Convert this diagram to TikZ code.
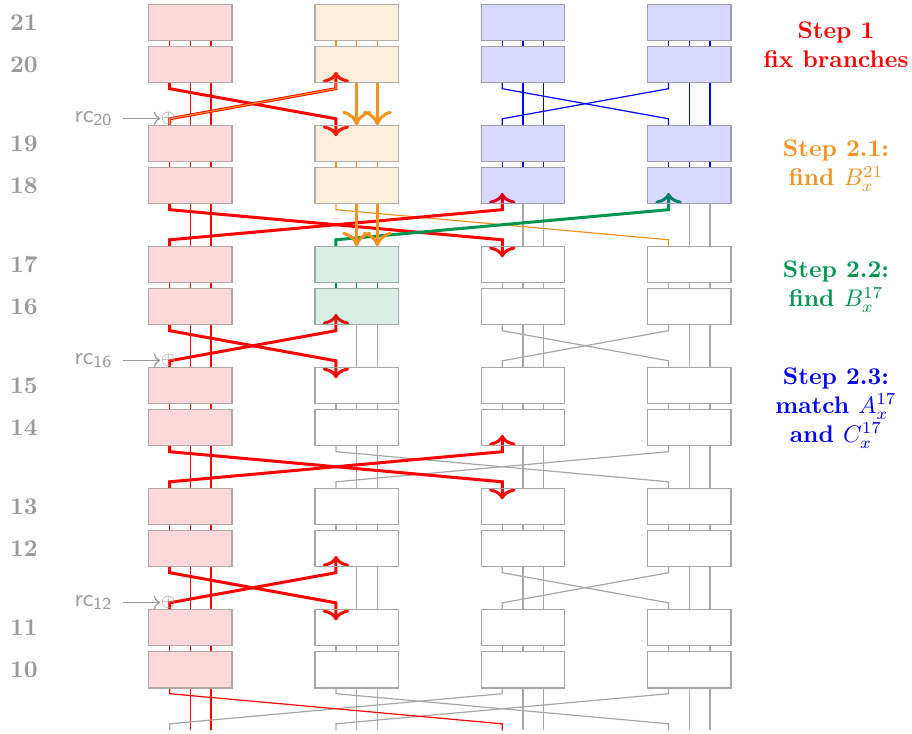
\documentclass[tikz,border=0pt]{standalone}
\usetikzlibrary{arrows.meta,calc}
\definecolor{myorange}{RGB}{245,145,30}
\definecolor{mygreen}{RGB}{0,150,80}
\pgfdeclarelayer{bg}
\pgfsetlayers{bg,main}
\tikzset{
  box/.style={rectangle, inner sep=0pt, outer sep=0pt, minimum width=34.71pt, minimum height=15.12pt, line width=0.5pt},
  boxred/.style={box, draw=red!12!black!35, fill=red, fill opacity=0.15},
  boxor/.style={box, draw=myorange!15!black!35, fill=myorange, fill opacity=0.15},
  boxbl/.style={box, draw=blue!18!black!38, fill=blue, fill opacity=0.15},
  boxgr/.style={box, draw=mygreen!18!black!38, fill=mygreen, fill opacity=0.15},
  boxwh/.style={box, draw=black!35},
  boxghost/.style={box},
  wire/.style={line width=0.5pt},
  wred/.style={wire, red}, wor/.style={wire, myorange}, wbl/.style={wire, blue},
  wgr/.style={wire, mygreen}, wgy/.style={wire, black!35},
  tred/.style={red, line width=1.25pt, -{To[length=4.5pt,width=11pt]}},
  tgreen/.style={mygreen, line width=1.25pt, -{To[length=4.5pt,width=11pt]}},
  oarrow/.style={myorange, line width=1.25pt, -{To[length=6pt,width=12pt]}},
  rowlab/.style={text=black!40, font=\bfseries},
  rclab/.style={text=black!40, anchor=base east, inner sep=0pt},
  plusnode/.style={text=black!40, inner sep=0pt, font=\scriptsize},
  rcarrow/.style={black!40, line width=0.5pt, ->, shorten <=4pt},
  steptext/.style={font=\bfseries, align=center},
}
% wires
\newcommand\zzmid[3]{\draw[#1] (#2.south) -- (#3.north);
  \draw[#1] ($(#2.south)+(20.7,0)$) -- ($(#3.north)+(20.7,0)$);}
\newcommand\zzshort[3]{\draw[#1] ($(#2.south)+(-20.7,0)$) -- ($(#3.north)+(-20.7,0)$);\zzmid{#1}{#2}{#3}}
\newcommand\zzleft[3]{\draw[#1] ($(#2.south)+(-20.7,0)$) -- ++(0,5.8) -- ($(#3.north)+(-20.7,-6.5)$) -- ($(#3.north)+(-20.7,0)$);}
\newcommand\zzdown[3]{\draw[#1] ($(#2.south)+(-20.7,0)$) -- ++(0,5.8) -- ($(#3.north)+(-20.7,-6.5)$) -- ($(#3.north)+(-20.7,11)$);}
\newcommand\zzup[3]{\draw[#1] ($(#2.north)+(-20.7,0)$) -- ++(0,-6.5) -- ($(#3.south)+(-20.7,5.8)$) -- ($(#3.south)+(-20.7,-11)$);}
\begin{document}
\begin{tikzpicture}[x=0.41667pt,y=-0.41667pt]
\useasboundingbox (0,0) rectangle (912,734);
% boxes
\foreach \r/\y/\stA/\stB/\stC in {21/22.45/boxred/boxor/boxbl, 20/64.75/boxred/boxor/boxbl,
  19/143.45/boxred/boxor/boxbl, 18/185.75/boxred/boxor/boxbl,
  17/264.45/boxred/boxgr/boxwh, 16/306.75/boxred/boxgr/boxwh,
  15/385.45/boxred/boxwh/boxwh, 14/427.75/boxred/boxwh/boxwh,
  13/506.45/boxred/boxwh/boxwh, 12/548.75/boxred/boxwh/boxwh,
  11/627.45/boxred/boxwh/boxwh, 10/669.75/boxred/boxwh/boxwh,
  9/748.45/boxghost/boxghost/boxghost}{
  \node[\stA] (b\r-1) at (190.35,\y) {};
  \node[\stB] (b\r-2) at (356.65,\y) {};
  \node[\stC] (b\r-3) at (522.95,\y) {};
  \node[\stC] (b\r-4) at (689.25,\y) {};
}
% row labels
\foreach \r/\y in {21/22.45, 20/64.75, 19/143.45, 18/185.75, 17/264.45, 16/306.75,
  15/385.45, 14/427.75, 13/506.45, 12/548.75, 11/627.45, 10/669.75}{
  \node[rowlab] (l\r) at (24,\y) {\r};
}
% rc inputs
\foreach \k/\y in {20/118.5, 16/360.5, 12/602.5}{
  \node[plusnode] (p\k) at (168.3,\y) {$\oplus$};
  \node[rclab] (rc\k) at (113,\y+3.8) {\textsf{rc}$_{\mathsf{\k}}$};
  \draw[rcarrow] (rc\k.east |- p\k) -- (p\k.west);
}
% step texts
\node[steptext, text=red] (s1) at (836,45) {Step 1\\fix branches};
\node[steptext, text=myorange] (s21) at (836,166) {Step 2.1:\\find $B_x^{21}$};
\node[steptext, text=mygreen] (s22) at (836,287) {Step 2.2:\\find $B_x^{17}$};
\node[steptext, text=blue] (s23) at (836,408) {Step 2.3:\\match $A_x^{17}$\\and $C_x^{17}$};

\begin{pgfonlayer}{bg}
% short gaps inside pairs
\zzshort{wred}{b21-1}{b20-1}\zzshort{wor}{b21-2}{b20-2}\zzshort{wbl}{b21-3}{b20-3}\zzshort{wbl}{b21-4}{b20-4}
\zzshort{wred}{b19-1}{b18-1}\zzshort{wor}{b19-2}{b18-2}\zzshort{wbl}{b19-3}{b18-3}\zzshort{wbl}{b19-4}{b18-4}
\zzshort{wred}{b17-1}{b16-1}\zzshort{wgr}{b17-2}{b16-2}\zzshort{wgy}{b17-3}{b16-3}\zzshort{wgy}{b17-4}{b16-4}
\foreach \u/\l in {15/14, 13/12, 11/10}{
  \zzshort{wred}{b\u-1}{b\l-1}\zzshort{wgy}{b\u-2}{b\l-2}\zzshort{wgy}{b\u-3}{b\l-3}\zzshort{wgy}{b\u-4}{b\l-4}
}
% gap 20 -> 19
\zzmid{wred}{b20-1}{b19-1}
\zzmid{wbl}{b20-3}{b19-3}\zzmid{wbl}{b20-4}{b19-4}
\zzleft{wbl}{b20-3}{b19-4}\zzleft{wbl}{b20-4}{b19-3}
\zzdown{tred}{b20-1}{b19-2}
\zzup{tred}{b19-1}{b20-2}
\zzleft{wor}{b20-2}{b19-1}
\zzmid{oarrow}{b20-2}{b19-2}
% gap 18 -> 17
\zzmid{wred}{b18-1}{b17-1}
\zzmid{wgy}{b18-3}{b17-3}\zzmid{wgy}{b18-4}{b17-4}
\zzleft{wor}{b18-2}{b17-4}
\zzdown{tred}{b18-1}{b17-3}
\zzup{tred}{b17-1}{b18-3}
\zzup{tgreen}{b17-2}{b18-4}
\zzmid{oarrow}{b18-2}{b17-2}
% gaps 16 -> 15 and 12 -> 11
\foreach \l/\u in {16/15, 12/11}{
  \zzmid{wred}{b\l-1}{b\u-1}
  \zzmid{wgy}{b\l-2}{b\u-2}\zzmid{wgy}{b\l-3}{b\u-3}\zzmid{wgy}{b\l-4}{b\u-4}
  \zzleft{wgy}{b\l-3}{b\u-4}\zzleft{wgy}{b\l-4}{b\u-3}
  \zzdown{tred}{b\l-1}{b\u-2}
  \zzup{tred}{b\u-1}{b\l-2}
}
% gap 14 -> 13
\zzmid{wred}{b14-1}{b13-1}
\zzmid{wgy}{b14-2}{b13-2}\zzmid{wgy}{b14-3}{b13-3}\zzmid{wgy}{b14-4}{b13-4}
\zzleft{wgy}{b14-2}{b13-4}\zzleft{wgy}{b14-4}{b13-2}
\zzdown{tred}{b14-1}{b13-3}
\zzup{tred}{b13-1}{b14-3}
% below 10
\zzmid{wred}{b10-1}{b9-1}
\zzmid{wgy}{b10-2}{b9-2}\zzmid{wgy}{b10-3}{b9-3}\zzmid{wgy}{b10-4}{b9-4}
\zzleft{wgy}{b10-3}{b9-1}\zzleft{wgy}{b10-2}{b9-4}\zzleft{wgy}{b10-4}{b9-2}
\zzleft{wred}{b10-1}{b9-3}
\end{pgfonlayer}
\end{tikzpicture}
\end{document}
